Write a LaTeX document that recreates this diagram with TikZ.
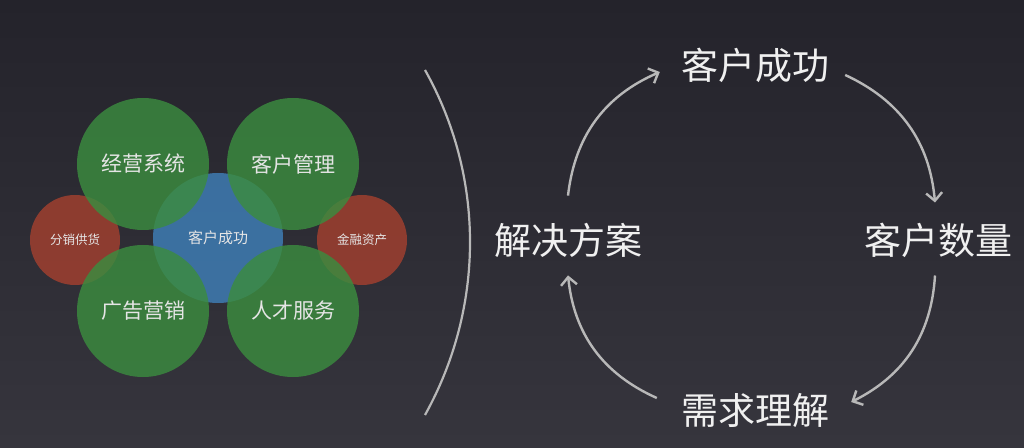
\documentclass[tikz,border=0pt]{standalone}
\usepackage{fontspec}
\newfontfamily\cjk{Noto Sans CJK SC}
\usetikzlibrary{arrows.meta, positioning}
\definecolor{bgtop}{HTML}{24232b}
\definecolor{bgbot}{HTML}{36353d}
\definecolor{gcirc}{HTML}{3b8c3f}
\definecolor{bcirc}{HTML}{3f7fb8}
\definecolor{rcirc}{HTML}{a3402f}
\definecolor{lgray}{HTML}{b8b8b8}

\begin{document}
\begin{tikzpicture}[x=1pt, y=1pt, font=\cjk,
                    blob/.style={circle, fill opacity=0.82, text opacity=1, text=white!90!black, inner sep=0pt},
                    big/.style={text=white!94!black, font=\cjk\fontsize{37}{37}\selectfont, inner sep=2pt},
                    cyc/.style={draw=lgray, line width=2.4pt, -{Straight Barb[length=8pt, width=16pt]}, bend left=30}]
    \shade[top color=bgtop, bottom color=bgbot] (0,0) rectangle (1024,447);
    \useasboundingbox (0,0) rectangle (1024,447);
    % left cluster
    \node[blob, fill=rcirc, minimum size=90, font=\cjk\fontsize{12.5}{12.5}\selectfont] (fxgh) at (75,207) {分销供货};
    \node[blob, fill=rcirc, minimum size=90, font=\cjk\fontsize{12.5}{12.5}\selectfont] (jrzc) at (362,207) {金融资产};
    \node[blob, fill=bcirc, minimum size=130, font=\cjk\fontsize{15}{15}\selectfont] (khcgl) at (218,209) {客户成功};
    \node[blob, fill=gcirc, minimum size=132, font=\cjk\fontsize{21}{21}\selectfont] (jyxt) at (143,283) {经营系统};
    \node[blob, fill=gcirc, minimum size=132, font=\cjk\fontsize{21}{21}\selectfont] (khgl) at (293,283) {客户管理};
    \node[blob, fill=gcirc, minimum size=132, font=\cjk\fontsize{21}{21}\selectfont] (ggyx) at (143,136) {广告营销};
    \node[blob, fill=gcirc, minimum size=132, font=\cjk\fontsize{21}{21}\selectfont] (rcfw) at (293,136) {人才服务};
    % bracket
    \draw[lgray, line width=2.2pt] (425,377) .. controls (485,270) and (485,140) .. (425,32);
    % cycle
    \node[big] (khcg) at (755,382) {客户成功};
    \node[big] (khsl) at (938,207) {客户数量};
    \node[big] (xqlj) at (755,37) {需求理解};
    \node[big] (jjfa) at (568,207) {解决方案};
    \draw[cyc] ([yshift=25]jjfa.north) to ([xshift=-19,yshift=-7]khcg.west);
    \draw[cyc] ([xshift=14,yshift=-10]khcg.east) to ([xshift=-3,yshift=18]khsl.north);
    \draw[cyc] ([xshift=-3,yshift=-16]khsl.south) to ([xshift=20,yshift=8]xqlj.east);
    \draw[cyc] ([xshift=-22,yshift=12]xqlj.west) to ([yshift=-16]jjfa.south);
\end{tikzpicture}
\end{document}
